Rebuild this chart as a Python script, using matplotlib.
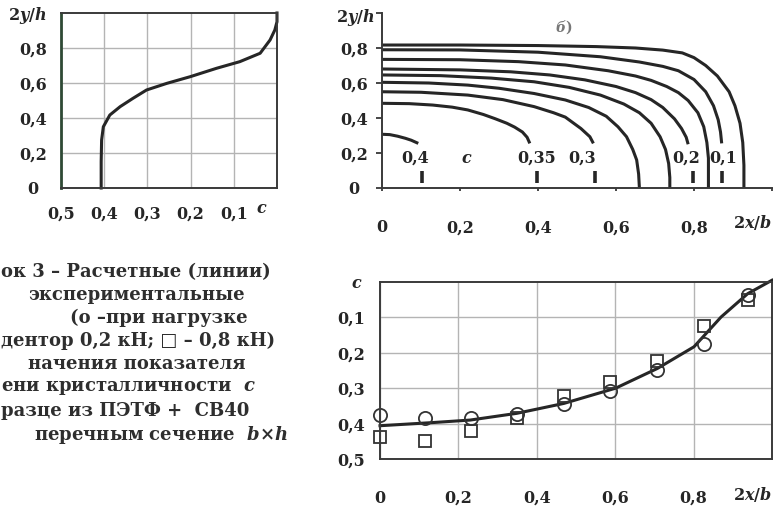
import matplotlib
matplotlib.use("Agg")
import matplotlib.pyplot as plt

# the scan is wide and heavy, DejaVu Serif Bold sits closer to it than Times
plt.rcParams['font.family'] = ['DejaVu Serif']
plt.rcParams['font.weight'] = 'bold'
plt.rcParams['mathtext.fontset'] = 'custom'
plt.rcParams['mathtext.rm'] = 'DejaVu Serif:bold'
plt.rcParams['mathtext.it'] = 'DejaVu Serif:italic:bold'

INK = '#262626'
GRID = '#b4b4b4'
FS = 11.5

# --- panel a: 2y/h vs c
a_c = [0.407, 0.407, 0.406, 0.402, 0.387, 0.363, 0.333, 0.302, 0.255, 0.201, 0.140, 0.086, 0.039, 0.016, 0.005, 0.0, 0.0]
a_y = [0.0, 0.15, 0.274, 0.35, 0.417, 0.465, 0.513, 0.56, 0.598, 0.636, 0.684, 0.722, 0.77, 0.846, 0.903, 0.95, 1.0]
a_xticks = [0.5, 0.4, 0.3, 0.2, 0.1]
a_xlabels = ['0,5', '0,4', '0,3', '0,2', '0,1']

# --- panel b: lines of equal c over the cross-section
b_lines = [
    ([0, 0.2, 0.4, 0.55, 0.65, 0.72, 0.77, 0.80, 0.83, 0.86, 0.89, 0.905, 0.918, 0.925, 0.928, 0.928],
     [0.817, 0.817, 0.814, 0.808, 0.80, 0.788, 0.772, 0.745, 0.70, 0.64, 0.55, 0.47, 0.37, 0.26, 0.13, 0.0]),
    ([0, 0.2, 0.4, 0.56, 0.66, 0.72, 0.76, 0.80, 0.83, 0.85, 0.862, 0.868, 0.871],
     [0.79, 0.789, 0.776, 0.75, 0.72, 0.695, 0.67, 0.62, 0.55, 0.47, 0.39, 0.32, 0.255]),
    ([0, 0.2, 0.35, 0.47, 0.58, 0.65, 0.69, 0.73, 0.76, 0.785, 0.81, 0.825, 0.833, 0.837, 0.837],
     [0.735, 0.733, 0.722, 0.703, 0.67, 0.64, 0.615, 0.58, 0.545, 0.50, 0.43, 0.35, 0.26, 0.17, 0.0]),
    ([0, 0.2, 0.33, 0.43, 0.52, 0.6, 0.65, 0.69, 0.72, 0.75, 0.768, 0.78, 0.785],
     [0.68, 0.675, 0.664, 0.646, 0.618, 0.58, 0.545, 0.505, 0.46, 0.395, 0.34, 0.29, 0.25]),
    ([0, 0.15, 0.28, 0.39, 0.48, 0.56, 0.62, 0.66, 0.69, 0.713, 0.727, 0.735, 0.738, 0.738],
     [0.646, 0.642, 0.628, 0.607, 0.575, 0.531, 0.48, 0.43, 0.37, 0.293, 0.22, 0.14, 0.06, 0.0]),
    ([0, 0.12, 0.22, 0.30, 0.39, 0.47, 0.53, 0.575, 0.605, 0.627, 0.643, 0.653, 0.658, 0.66],
     [0.604, 0.600, 0.588, 0.57, 0.54, 0.503, 0.46, 0.41, 0.35, 0.293, 0.22, 0.16, 0.08, 0.0]),
    ([0, 0.1, 0.22, 0.31, 0.39, 0.44, 0.47, 0.51, 0.533, 0.542],
     [0.55, 0.547, 0.531, 0.505, 0.465, 0.43, 0.405, 0.34, 0.293, 0.255]),
    ([0, 0.07, 0.13, 0.18, 0.22, 0.26, 0.29, 0.32, 0.34, 0.36, 0.372, 0.379],
     [0.484, 0.482, 0.474, 0.462, 0.446, 0.42, 0.396, 0.37, 0.348, 0.32, 0.29, 0.255]),
    ([0, 0.02, 0.04, 0.06, 0.075, 0.093],
     [0.307, 0.305, 0.296, 0.284, 0.273, 0.255]),
]
b_marks = [0.102, 0.397, 0.546, 0.798, 0.871]
b_labels = ['0,4', '0,35', '0,3', '0,2', '0,1']
b_label_x = [0.085, 0.397, 0.512, 0.78, 0.875]

# --- panel c: c along the width, calc + experiment
c_x = [0, 0.136, 0.230, 0.349, 0.469, 0.601, 0.708, 0.801, 0.870, 0.938, 1.0]
c_line = [0.406, 0.397, 0.39, 0.371, 0.343, 0.30, 0.244, 0.183, 0.099, 0.033, -0.005]
c_xexp = [0, 0.115, 0.233, 0.35, 0.47, 0.588, 0.707, 0.826, 0.938]
c_circ = [0.375, 0.385, 0.385, 0.373, 0.345, 0.308, 0.249, 0.175, 0.037]
c_sq = [0.437, 0.448, 0.422, 0.385, 0.322, 0.282, 0.222, 0.125, 0.05]
c_yticks = [0.1, 0.2, 0.3, 0.4, 0.5]
c_ylabels = ['0,1', '0,2', '0,3', '0,4', '0,5']

xt = [0, 0.2, 0.4, 0.6, 0.8]
xl = ['0', '0,2', '0,4', '0,6', '0,8']
yt = [0, 0.2, 0.4, 0.6, 0.8]

# caption lines: text, x (px), anchor, y (px)
caption = [
    ('ок 3 – Расчетные (линии)', 1, 'left', 272),
    ('экспериментальные', 245, 'right', 295),
    ('(о –при нагрузке', 248, 'right', 318),
    ('дентор 0,2 кН; □ – 0,8 кН)', 1, 'left', 341),
    ('начения показателя', 245, 'right', 364),
    ('ени кристалличности  $c$', 1, 'left', 388),
    ('разце из ПЭТФ +  СВ40', 1, 'left', 411),
    ('перечным сечение  $b{\\times}h$', 288, 'right', 435),
]

W, H = 773, 512
fig = plt.figure(figsize=(W / 100, H / 100), dpi=100)


def box(l, t, r, b):
    return [l / W, 1 - b / H, (r - l) / W, (b - t) / H]


def center_ylabels(ax):
    for t in ax.get_yticklabels():
        t.set_ha('center')


# panel a
ax1 = fig.add_axes(box(61, 13, 277, 188))
ax1.plot(a_c, a_y, color=INK, lw=2.2, clip_on=False)
ax1.set_xlim(0.5, 0)
ax1.set_ylim(0, 1.0)
ax1.set_xticks(a_xticks)
ax1.set_xticklabels(a_xlabels)
ax1.set_yticks(yt)
ax1.set_yticklabels(xl)
ax1.grid(True, color=GRID, lw=1)
ax1.tick_params(axis='both', length=0, labelsize=FS, colors=INK)
ax1.tick_params(axis='y', pad=20)
ax1.tick_params(axis='x', pad=13)
center_ylabels(ax1)
for s in ax1.spines.values():
    s.set_color('#3a3a3a')
    s.set_linewidth(1.4)
ax1.spines['left'].set_color('#2f4a35')
ax1.spines['left'].set_linewidth(2)
ax1.text(0.035, -0.07, '$c$', transform=ax1.get_xaxis_transform(), ha='center', va='top',
         fontsize=FS, color=INK)
fig.text(27 / W, 1 - 16 / H, '$2y/h$', ha='center', va='center', fontsize=FS, color=INK)

# panel b
ax2 = fig.add_axes(box(382, 13, 772, 188))
for xs, ys in b_lines:
    ax2.plot(xs, ys, color=INK, lw=2.2, solid_capstyle='butt')
for m in b_marks:
    ax2.plot([m, m], [0.03, 0.1], color=INK, lw=2.6, solid_capstyle='butt')
for lab, lx in zip(b_labels, b_label_x):
    ax2.text(lx, 0.17, lab, ha='center', va='center', fontsize=FS, color=INK)
ax2.text(0.217, 0.17, '$c$', ha='center', va='center', fontsize=FS, color=INK)
ax2.text(0.465, 0.92, '$б)$', ha='center', va='center', fontsize=10, color='#777777')
ax2.set_xlim(0, 1.0)
ax2.set_ylim(0, 1.0)
ax2.set_xticks(xt + [1.0])
ax2.set_xticklabels(xl + [''])
ax2.set_yticks(yt + [1.0])
ax2.set_yticklabels(xl + [''])
ax2.spines['top'].set_visible(False)
ax2.spines['right'].set_visible(False)
for s in ('left', 'bottom'):
    ax2.spines[s].set_color('#3a3a3a')
    ax2.spines[s].set_linewidth(1.4)
ax2.tick_params(axis='y', length=4, width=1.2, pad=16, labelsize=FS, colors=INK)
ax2.tick_params(axis='x', length=2.5, width=1.2, pad=20, labelsize=FS, colors=INK)
center_ylabels(ax2)
ax2.text(1.0, -0.2, '$2x/b$', transform=ax2.get_xaxis_transform(), ha='right', va='center',
         fontsize=FS, color=INK)
fig.text(355 / W, 1 - 17 / H, '$2y/h$', ha='center', va='center', fontsize=FS, color=INK)

# panel c
ax3 = fig.add_axes(box(380, 282, 772, 459))
ax3.plot(c_x, c_line, color=INK, lw=2.2, clip_on=False)
ax3.plot(c_xexp, c_circ, 'o', ms=9.5, mfc='none', mec='#333333', mew=1.3, clip_on=False)
ax3.plot(c_xexp, c_sq, 's', ms=8.5, mfc='none', mec='#333333', mew=1.3, clip_on=False)
ax3.set_xlim(0, 1.0)
ax3.set_ylim(0.5, 0)
ax3.set_xticks(xt)
ax3.set_xticklabels(xl)
ax3.set_yticks(c_yticks)
ax3.set_yticklabels(c_ylabels)
ax3.grid(True, color=GRID, lw=1)
ax3.tick_params(axis='both', length=0, labelsize=FS, colors=INK)
ax3.tick_params(axis='y', pad=21)
ax3.tick_params(axis='x', pad=22)
center_ylabels(ax3)
for s in ax3.spines.values():
    s.set_color('#3a3a3a')
    s.set_linewidth(1.4)
ax3.text(1.0, -0.2, '$2x/b$', transform=ax3.get_xaxis_transform(), ha='right', va='center',
         fontsize=FS, color=INK)
fig.text(357 / W, 1 - 283 / H, '$c$', ha='center', va='center', fontsize=FS, color=INK)

# caption (the scan cuts it at the left edge)
for txt, xp, anchor, yc in caption:
    fig.text(xp / W, 1 - yc / H, txt, ha=anchor, va='center', fontsize=13, color='#2e2e2e')

fig.savefig('out.png', dpi=100, facecolor='white')
